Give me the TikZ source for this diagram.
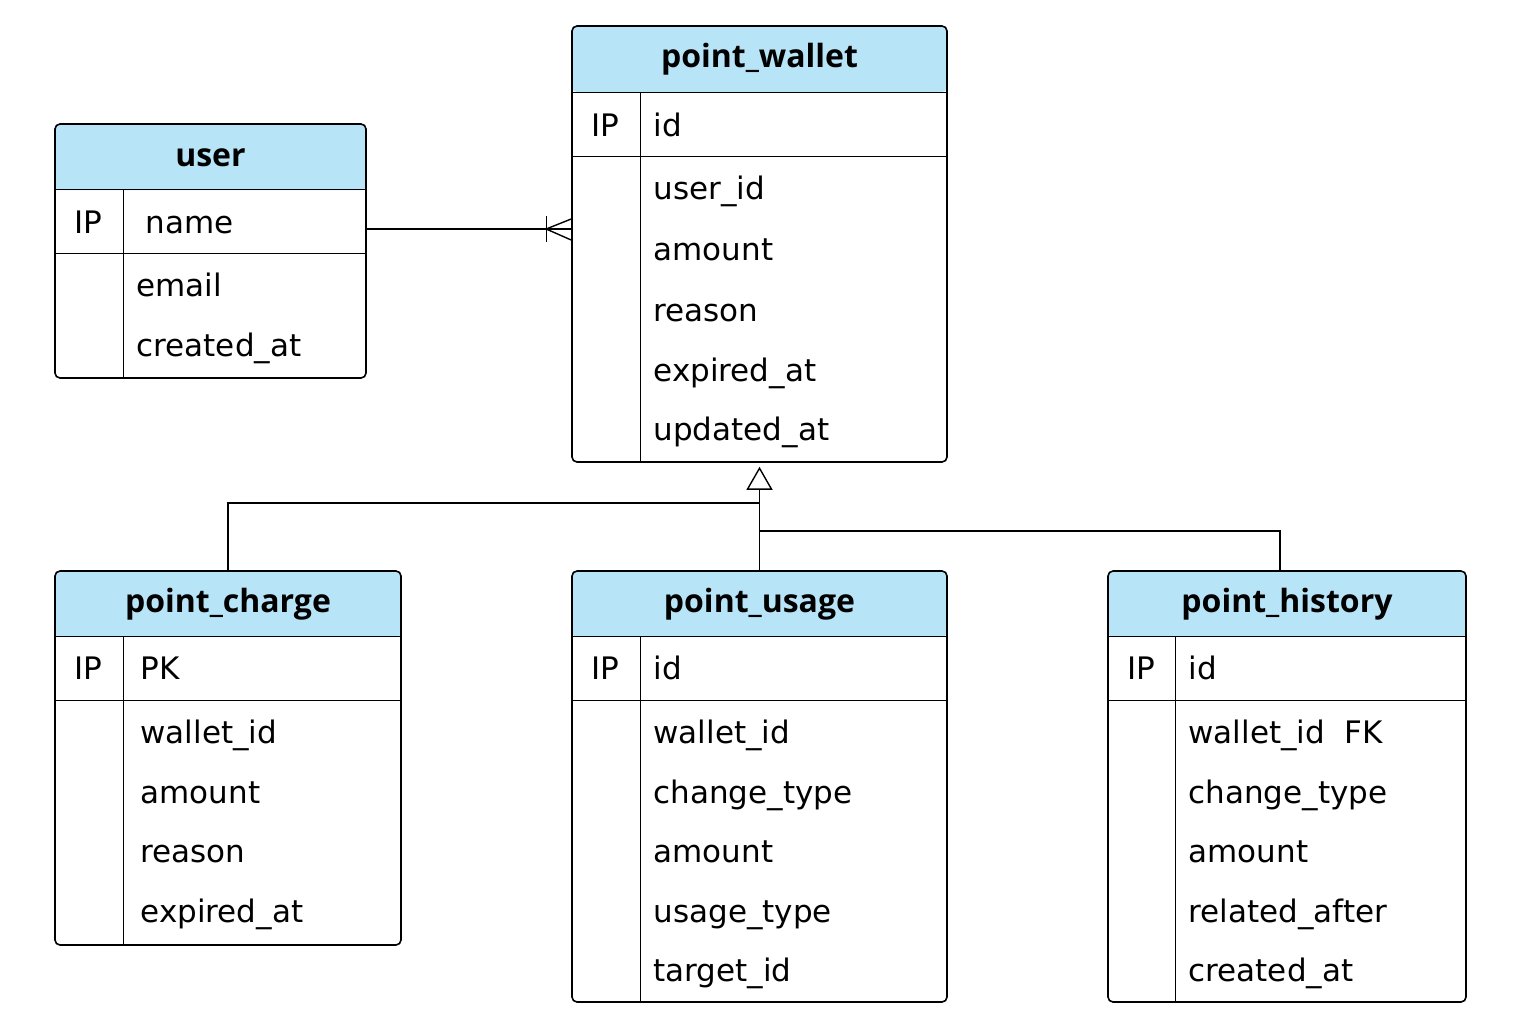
\documentclass[tikz,border=0pt]{standalone}
\usepackage{fontspec}
\setmainfont{Open Sans}
\newfontfamily\campofont{DejaVu Sans}
\usetikzlibrary{arrows.meta, positioning, calc}
\definecolor{azulcab}{RGB}{183,228,247}
\tikzstyle{tabla} = [rectangle, rounded corners=2.5pt, draw=black, line width=0.8pt, inner sep=0pt, fill=white, path picture={\fill[azulcab] (path picture bounding box.north west) rectangle ([yshift=-33pt]path picture bounding box.north east);}]
\tikzstyle{cabecera} = [font=\fontsize{16}{19}\selectfont\bfseries, anchor=base, inner sep=0pt]
\tikzstyle{clave} = [font=\campofont\fontsize{15.5}{19}\selectfont, anchor=base, inner sep=0pt]
\tikzstyle{campo} = [font=\campofont\fontsize{15.5}{19}\selectfont, anchor=base west, inner sep=0pt]
\tikzstyle{separador} = [line width=0.6pt]
\tikzstyle{linea} = [line width=0.7pt]
\tikzstyle{herencia} = [line width=0.7pt, -{Triangle[open, length=11.5pt, width=13pt]}, shorten >=2pt]

\begin{document}
\begin{tikzpicture}[x=0.5pt, y=-0.5pt]
        \useasboundingbox (0,0) rectangle (1536,1024);

        % Tablas
        \node (user) [tabla, minimum width=155.5pt, minimum height=127pt] at (210.5,251) {};
        \node (wallet) [tabla, minimum width=187.5pt, minimum height=218pt] at (759.5,244) {};
        \node (charge) [tabla, minimum width=173pt, minimum height=187pt] at (228,758) {};
        \node (usage) [tabla, minimum width=187.5pt, minimum height=215.5pt] at (759.5,786.5) {};
        \node (history) [tabla, minimum width=179pt, minimum height=215.5pt] at (1287,786.5) {};

        % Separadores
        \draw [separador] ($(user.north west)+(0,66)$) -- ($(user.north east)+(0,66)$);
        \draw [separador] ($(user.north west)+(0,130)$) -- ($(user.north east)+(0,130)$);
        \draw [separador] ($(user.north west)+(69,66)$) -- ($(user.south west)+(69,0)$);
        \draw [separador] ($(wallet.north west)+(0,67)$) -- ($(wallet.north east)+(0,67)$);
        \draw [separador] ($(wallet.north west)+(0,131)$) -- ($(wallet.north east)+(0,131)$);
        \draw [separador] ($(wallet.north west)+(69,67)$) -- ($(wallet.south west)+(69,0)$);
        \draw [separador] ($(charge.north west)+(0,66)$) -- ($(charge.north east)+(0,66)$);
        \draw [separador] ($(charge.north west)+(0,130)$) -- ($(charge.north east)+(0,130)$);
        \draw [separador] ($(charge.north west)+(69,66)$) -- ($(charge.south west)+(69,0)$);
        \draw [separador] ($(usage.north west)+(0,66)$) -- ($(usage.north east)+(0,66)$);
        \draw [separador] ($(usage.north west)+(0,130)$) -- ($(usage.north east)+(0,130)$);
        \draw [separador] ($(usage.north west)+(69,66)$) -- ($(usage.south west)+(69,0)$);
        \draw [separador] ($(history.north west)+(0,66)$) -- ($(history.north east)+(0,66)$);
        \draw [separador] ($(history.north west)+(0,130)$) -- ($(history.north east)+(0,130)$);
        \draw [separador] ($(history.north west)+(68,66)$) -- ($(history.south west)+(68,0)$);

        % user
        \node (userhead) [cabecera] at ($(user.north)+(0,43)$) {user};
        \node (userpk) [clave] at ($(user.north west)+(34.5,110)$) {IP};
        \node (username) [campo] at ($(user.north west)+(91,110)$) {name};
        \node (useremail) [campo] at ($(user.north west)+(82,173)$) {email};
        \node (usercreated) [campo] at ($(useremail.base west)+(0,60)$) {created\_at};

        % point_wallet
        \node (wallethead) [cabecera] at ($(wallet.north)+(0,42)$) {point\_wallet};
        \node (walletpk) [clave] at ($(wallet.north west)+(34.5,111)$) {IP};
        \node (walletid) [campo] at ($(wallet.north west)+(82,111)$) {id};
        \node (walletuser) [campo] at ($(wallet.north west)+(82,174)$) {user\_id};
        \node (walletamount) [campo] at ($(walletuser.base west)+(0,61)$) {amount};
        \node (walletreason) [campo] at ($(walletamount.base west)+(0,61)$) {reason};
        \node (walletexpired) [campo] at ($(walletreason.base west)+(0,60)$) {expired\_at};
        \node (walletupdated) [campo] at ($(walletexpired.base west)+(0,59)$) {updated\_at};

        % point_charge
        \node (chargehead) [cabecera] at ($(charge.north)+(0,42)$) {point\_charge};
        \node (chargepk) [clave] at ($(charge.north west)+(34.5,109)$) {IP};
        \node (chargeid) [campo] at ($(charge.north west)+(86,109)$) {PK};
        \node (chargewallet) [campo] at ($(charge.north west)+(86,173)$) {wallet\_id};
        \node (chargeamount) [campo] at ($(chargewallet.base west)+(0,60)$) {amount};
        \node (chargereason) [campo] at ($(chargeamount.base west)+(0,59)$) {reason};
        \node (chargeexpired) [campo] at ($(chargereason.base west)+(0,60)$) {expired\_at};

        % point_usage
        \node (usagehead) [cabecera] at ($(usage.north)+(0,42)$) {point\_usage};
        \node (usagepk) [clave] at ($(usage.north west)+(34.5,109)$) {IP};
        \node (usageid) [campo] at ($(usage.north west)+(82,109)$) {id};
        \node (usagewallet) [campo] at ($(usage.north west)+(82,173)$) {wallet\_id};
        \node (usagechange) [campo] at ($(usagewallet.base west)+(0,60)$) {change\_type};
        \node (usageamount) [campo] at ($(usagechange.base west)+(0,59)$) {amount};
        \node (usagetype) [campo] at ($(usageamount.base west)+(0,60)$) {usage\_type};
        \node (usagetarget) [campo] at ($(usagetype.base west)+(0,59)$) {target\_id};

        % point_history
        \node (historyhead) [cabecera] at ($(history.north)+(0,42)$) {point\_history};
        \node (historypk) [clave] at ($(history.north west)+(34,109)$) {IP};
        \node (historyid) [campo] at ($(history.north west)+(81,109)$) {id};
        \node (historywallet) [campo] at ($(history.north west)+(81,173)$) {wallet\_id\ \ FK};
        \node (historychange) [campo] at ($(historywallet.base west)+(0,60)$) {change\_type};
        \node (historyamount) [campo] at ($(historychange.base west)+(0,59)$) {amount};
        \node (historyrelated) [campo] at ($(historyamount.base west)+(0,60)$) {related\_after};
        \node (historycreated) [campo] at ($(historyrelated.base west)+(0,59)$) {created\_at};

        % Relacion user -- point_wallet
        \coordinate (pata) at (wallet.west |- 0,229);
        \draw [linea] (user.east |- pata) -- (pata);
        \draw [linea] ($(pata)+(-25,-13)$) -- ($(pata)+(-25,13)$);
        \draw [linea] ($(pata)+(0,-10)$) -- ($(pata)+(-25,0)$) -- ($(pata)+(0,11)$);

        % Herencia
        \coordinate (rama1) at ($(wallet.south)+(0,40)$);
        \coordinate (rama2) at ($(wallet.south)+(0,68)$);
        \draw [herencia] (usage.north) -- (wallet.south);
        \draw [linea] (charge.north) |- (rama1);
        \draw [linea] ($(history.north)+(-7,0)$) |- (rama2);

    \end{tikzpicture}
\end{document}
